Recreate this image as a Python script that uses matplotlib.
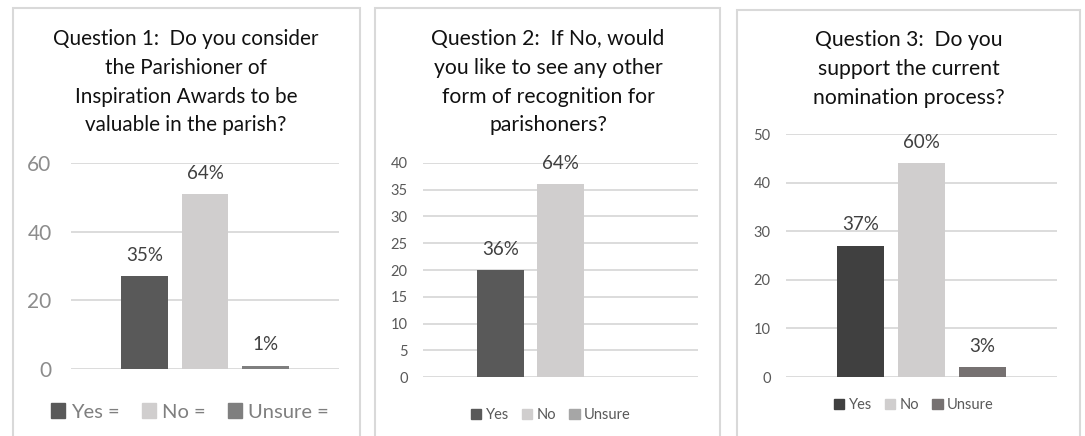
import matplotlib.pyplot as plt
import matplotlib.patches as mpatches
from matplotlib import font_manager

# ---------------------------------------------------------------------------
# Data
# ---------------------------------------------------------------------------
CATEGORIES = ["Yes", "No", "Unsure"]

Q1_TITLE  = "Question 1:  Do you consider\nthe Parishioner of\nInspiration Awards to be\nvaluable in the parish?"
Q1_VALUES = [27, 51, 1]
Q1_LABELS = ["35%", "64%", "1%"]
Q1_LEGEND = ["Yes =", "No =", "Unsure ="]

Q2_TITLE  = "Question 2:  If No, would\nyou like to see any other\nform of recognition for\nparishoners?"
Q2_VALUES = [20, 36, 0]
Q2_LABELS = ["36%", "64%", None]

Q3_TITLE  = "Question 3:  Do you\nsupport the current\nnomination process?"
Q3_VALUES = [27, 44, 2]
Q3_LABELS = ["37%", "60%", "3%"]

W, H = 1085, 436
DPI = 100
GRID = "#d9d9d9"

fams = {f.name for f in font_manager.fontManager.ttflist}
FONT = "Lato" if "Lato" in fams else "DejaVu Sans"
plt.rcParams["font.family"] = [FONT, "DejaVu Sans"]


def px_rect(x0, y0, x1, y1):
    """Pixel box (top-left origin) -> figure fraction [l, b, w, h]."""
    return [x0 / W, 1 - y1 / H, (x1 - x0) / W, (y1 - y0) / H]


fig = plt.figure(figsize=(W / DPI, H / DPI), dpi=DPI)

# panel borders
for x0, y0, x1 in [(13, 8, 360), (375, 8, 720), (737, 10, 1080)]:
    fig.patches.append(mpatches.Rectangle(
        (x0 / W, -0.05), (x1 - x0) / W, 1.05 - y0 / H,
        transform=fig.transFigure, fill=False, edgecolor=GRID, linewidth=1.5))


def draw_panel(box, values, labels, colors, ymax, ystep, xhalf, title, title_xy,
               title_size, tick_kw, legend_names, legend_xy, legend_kw):
    ax = fig.add_axes(px_rect(*box))
    x = range(len(values))
    ax.bar(x, values, width=0.78, color=colors, zorder=3)
    for xi, v, lab in zip(x, values, labels):
        if lab:
            ax.annotate(lab, (xi, v), xytext=(0, 15), textcoords="offset points",
                        ha="center", va="center", fontsize=13.5, color="#404040")
    ax.set_xlim(1 - xhalf, 1 + xhalf)
    ax.set_ylim(0, ymax)
    ax.set_yticks(range(0, ymax + 1, ystep))
    ax.set_xticks([])
    ax.grid(axis="y", color=GRID, linewidth=1.3, zorder=0)
    ax.set_axisbelow(True)
    for s in ax.spines.values():
        s.set_visible(False)
    ax.tick_params(axis="y", length=0, pad=tick_kw.pop("pad"), **tick_kw)
    ax.set_facecolor("none")

    fig.text(title_xy[0] / W, 1 - title_xy[1] / H, title, ha="center", va="top",
             fontsize=title_size, color="#111111", linespacing=1.55)

    handles = [mpatches.Patch(color=c, label=n) for c, n in zip(colors, legend_names)]
    fig.legend(handles=handles, loc="center", ncol=3, frameon=False,
               bbox_to_anchor=(legend_xy[0] / W, 1 - legend_xy[1] / H),
               handlelength=0.7, handleheight=0.7, handletextpad=0.3,
               borderpad=0, **legend_kw)
    return ax


draw_panel((71, 163, 339, 369), Q1_VALUES, Q1_LABELS,
           ["#595959", "#d0cece", "#7f7f7f"], 60, 20, 2.23,
           Q1_TITLE, (186, 29), 14.9,
           dict(labelsize=15, labelcolor="#8c8c8c", pad=14),
           Q1_LEGEND, (190, 412),
           dict(labelcolor="#7f7f7f", columnspacing=1.1,
                prop={"family": FONT, "size": 14.5}))

draw_panel((423, 163, 698, 377), Q2_VALUES, Q2_LABELS,
           ["#595959", "#d0cece", "#a6a6a6"], 40, 5, 2.29,
           Q2_TITLE, (548, 29), 15.2,
           dict(labelsize=10.5, labelcolor="#595959", pad=11),
           CATEGORIES, (551, 415),
           dict(fontsize=10.5, labelcolor="#595959", columnspacing=0.9))

draw_panel((786, 134, 1057, 377), Q3_VALUES, Q3_LABELS,
           ["#404040", "#d0cece", "#767171"], 50, 10, 2.22,
           Q3_TITLE, (909, 30), 15.2,
           dict(labelsize=10.5, labelcolor="#595959", pad=11),
           CATEGORIES, (914, 405),
           dict(fontsize=10.5, labelcolor="#595959", columnspacing=0.9))

fig.savefig("out.png", dpi=DPI, facecolor="white")
